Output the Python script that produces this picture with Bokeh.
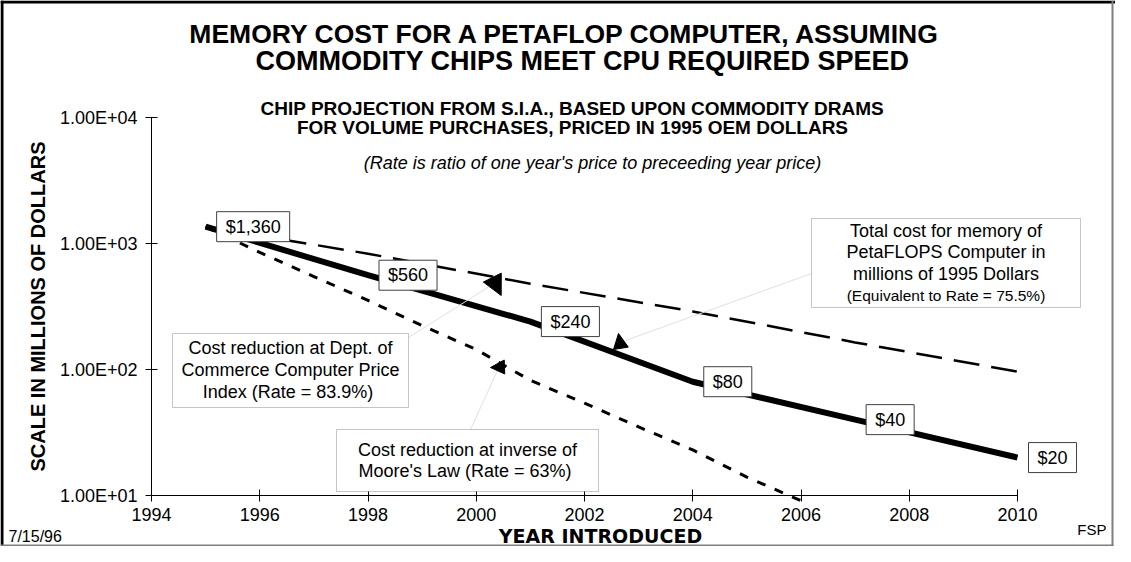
import math
from bokeh.plotting import figure
from bokeh.models import FixedTicker, Label, BoxAnnotation, Arrow, NormalHead, Range1d
from bokeh.embed import file_html
from bokeh.resources import INLINE

# ---- data ----
years_sia = [1995, 1998, 2001, 2004, 2007, 2010]
cost_sia = [1360, 560, 240, 80, 40, 20]
labels_sia = ["$1,360", "$560", "$240", "$80", "$40", "$20"]

years_doc = [1995, 1998, 2001, 2004, 2007, 2010]
cost_doc = [1360, 830, 480, 289, 164, 96]

years_moore = [1995, 1996, 1997, 1998, 1999, 2000, 2001, 2002, 2003, 2004, 2005, 2006]
cost_moore = [1360, 849, 547, 353, 223, 144, 82, 54, 35, 23, 14, 9.1]

x_ticks = [1994, 1996, 1998, 2000, 2002, 2004, 2006, 2008, 2010]
y_ticks = [10, 100, 1000, 10000]
y_tick_labels = ["1.00E+01", "1.00E+02", "1.00E+03", "1.00E+04"]

FONT = "Liberation Sans"
W, H = 1115, 546

# helpers: canvas pixel -> data (axis origin at pixel 151, 495)
def X(px):
    return 1994 + (px - 151) / 54.125

def Y(py):
    return 10 ** (1 + (495 - py) / 126)

p = figure(width=W, height=H, x_range=Range1d(X(0), X(W)), y_range=Range1d(Y(H), Y(0)),
           y_axis_type="log", output_backend="svg", toolbar_location=None,
           min_border=0)
p.title.visible = False
p.grid.visible = False
p.outline_line_color = None
p.background_fill_color = "white"
p.border_fill_color = "white"

for ax in (p.xaxis[0], p.yaxis[0]):
    ax.axis_line_color = "black"
    ax.axis_line_width = 1
    ax.major_tick_line_color = "black"
    ax.major_tick_in = 6
    ax.major_tick_out = 6
    ax.minor_tick_line_color = None
    ax.major_label_text_font = FONT
    ax.major_label_text_font_size = "18px"
    ax.major_label_text_color = "black"

p.xaxis.ticker = FixedTicker(ticks=x_ticks, minor_ticks=[])
p.xaxis.bounds = (1994, 2010)
p.xaxis.fixed_location = 10
p.xaxis.major_label_standoff = 6
p.yaxis.ticker = FixedTicker(ticks=y_ticks, minor_ticks=[])
p.yaxis.major_label_overrides = {t: l for t, l in zip(y_ticks, y_tick_labels)}
p.yaxis.bounds = (10, 10000)
p.yaxis.fixed_location = 1994
p.yaxis.major_label_standoff = 8

# ---- outer border ----
for l, r, t, b, c in [(0, W, 0, 3, "black"), (0, 3, 0, H, "black"),
                      (1111, 1113, 0, 546, "#7f7f7f"), (0, 1113, 544, 546, "#7f7f7f")]:
    p.add_layout(BoxAnnotation(left=X(l), right=X(r), top=Y(t), bottom=Y(b),
                               fill_color=c, fill_alpha=1, line_color=None))

# ---- series ----
p.line(years_doc, cost_doc, line_width=2.5, color="black", line_dash="26 12")
p.line(years_moore, cost_moore, line_width=3, color="black", line_dash="9 10")
p.line(years_sia, cost_sia, line_width=6, color="black")

# ---- leader lines and arrow heads ----
for (x0, y0, x1, y1) in [(408, 337, 492, 284), (625, 340, 811, 273), (470, 429, 497, 370)]:
    p.add_layout(Arrow(x_start=X(x0), y_start=Y(y0), x_end=X(x1), y_end=Y(y1),
                       end=None, line_color="#e0e0e0", line_width=1))
for (x0, y0, x1, y1, s) in [(492, 277.5, 500.7, 295, 20), (620.5, 348.5, 618, 333, 15),
                            (504, 366.5, 490, 367, 14)]:
    p.add_layout(Arrow(x_start=X(x0), y_start=Y(y0), x_end=X(x1), y_end=Y(y1),
                       end=NormalHead(size=s, fill_color="black", line_color="black"),
                       line_alpha=0))

# ---- text boxes ----
for (l, r, t, b) in [(811, 1080, 218, 307), (172, 408, 333, 407), (336, 598, 429, 491)]:
    p.add_layout(BoxAnnotation(left=X(l), right=X(r), top=Y(t), bottom=Y(b),
                               fill_color="white", fill_alpha=1,
                               line_color="#404040", line_width=1))

def txt(px, py, s, size="18px", style="normal", align="center", font=FONT, angle=0):
    p.add_layout(Label(x=X(px), y=Y(py), text=s, text_align=align, text_baseline="middle",
                       text_font=font, text_font_size=size, text_font_style=style,
                       text_color="black", angle=angle))

txt(945.5, 230, "Total cost for memory of")
txt(945.5, 251, "PetaFLOPS Computer in")
txt(945.5, 273, "millions of 1995 Dollars")
txt(945.5, 295, "(Equivalent to Rate = 75.5%)", size="15.5px")

txt(290, 347, "Cost reduction at Dept. of")
txt(290, 369, "Commerce Computer Price")
txt(290, 391, "Index  (Rate = 83.9%)")

txt(467, 449, "Cost reduction at inverse of")
txt(467, 470, "Moore's Law  (Rate = 63%)")

# ---- value boxes on the SIA line ----
for xv, yv, s in zip(years_sia, cost_sia, labels_sia):
    p.add_layout(Label(x=xv, y=yv, text=s, x_offset=11, text_align="left",
                       text_baseline="middle", text_font=FONT, text_font_size="18px",
                       text_color="black",
                       background_fill_color="white", border_line_color="#404040",
                       border_line_width=1, padding=dict(x=9, y=5)))

# ---- titles ----
txt(565, 33, "MEMORY COST FOR A PETAFLOP COMPUTER, ASSUMING", size="26.5px", style="bold")
txt(582, 60, "COMMODITY CHIPS MEET CPU REQUIRED SPEED", size="27px", style="bold")
txt(572, 108, "CHIP PROJECTION FROM S.I.A., BASED UPON COMMODITY DRAMS", size="19px", style="bold")
txt(572, 127, "FOR VOLUME PURCHASES, PRICED IN 1995 OEM DOLLARS", size="19px", style="bold")
txt(592, 162, "(Rate is ratio of one year's price to preceeding year price)", size="18px", style="italic")

# ---- axis titles and footer ----
txt(37, 306, "SCALE IN MILLIONS OF DOLLARS", size="20px", style="bold", angle=math.pi / 2)
txt(600, 535, "YEAR INTRODUCED", size="19px", style="bold", font="DejaVu Sans")
txt(8, 536, "7/15/96", size="16px", align="left")
txt(1106, 529, "FSP", size="15px", align="right")

open("out.html", "w").write(file_html(p, INLINE))
